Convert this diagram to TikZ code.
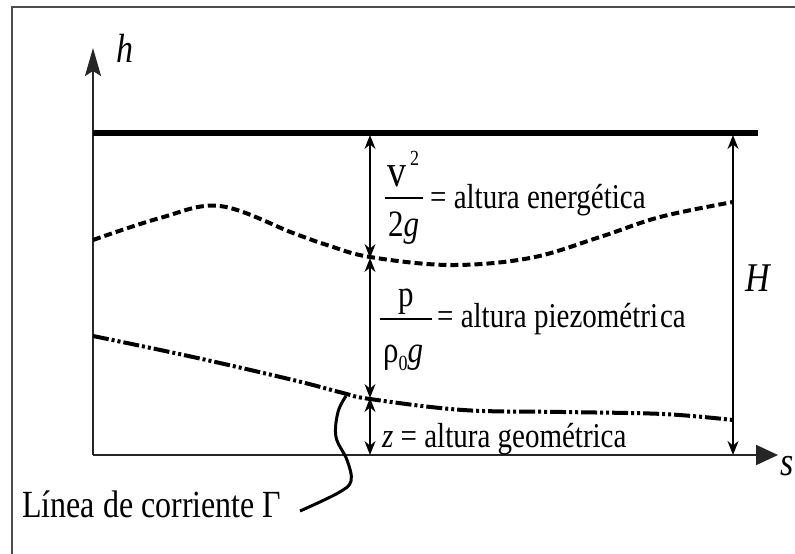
\documentclass[tikz,border=0pt]{standalone}
\usepackage{fontspec}
\setmainfont{Liberation Serif}
\usetikzlibrary{arrows.meta}
\newcommand\vs[1]{\scalebox{1}[1.2]{#1}}
\begin{document}
\begin{tikzpicture}[x=1pt,y=-1pt,
  frameline/.style={line width=1.6pt, draw=black!70},
  axisline/.style={line width=2pt, draw=black!85},
  energyline/.style={line width=6pt},
  piezoline/.style={line width=4pt, dash pattern=on 8pt off 4pt},
  streamline/.style={line width=4pt, dash pattern=on 16pt off 3pt on 3pt off 3pt on 3pt off 3pt},
  dimarrow/.style={line width=1.4pt, {Stealth[length=14pt,width=11pt]}-{Stealth[length=14pt,width=11pt]}},
  lbl/.style={inner sep=0pt, anchor=base west, font=\fontsize{29}{34}\selectfont},
  frac/.style={inner sep=0pt, anchor=base west, font=\fontsize{31}{36}\selectfont},
  supl/.style={inner sep=0pt, anchor=base west, font=\fontsize{18}{20}\selectfont},
  axlbl/.style={inner sep=0pt, anchor=base west, font=\fontsize{34}{40}\selectfont\itshape},
  fracbar/.style={line width=1.5pt}
]
\useasboundingbox (0,0) rectangle (795,554);
\fill[white] (0,0) rectangle (795,554);
% frame
\coordinate (F0) at (12,554);
\coordinate (F1) at (12,7);
\coordinate (F2) at (795,7);
\draw[frameline] (F0) -- (F1) -- (F2);
% axes
\coordinate (O) at (93,455);
\coordinate (hTip) at (93,48);
\coordinate (sTip) at (778,455);
\draw[axisline, -{Stealth[length=28pt,width=16pt,inset=5pt]}] (O) -- (hTip);
\draw[axisline, -{Triangle[length=22pt,width=20pt]}] (O) -- (sTip);
\node[axlbl] (hlab) at (116,62) {\vs{h}};
\node[axlbl] (slab) at (780,475) {\vs{s}};
% energy line
\coordinate (E0) at (93,133);
\coordinate (E1) at (758,133);
\draw[energyline] (E0) -- (E1);
% piezometric line
\draw[piezoline] plot[smooth, tension=0.6] coordinates {(93,240) (160,218) (220,206) (293,233) (327,245) (370,257) (450,265) (530,258) (600,237) (660,217) (733,202)};
% streamline
\draw[streamline] plot[smooth, tension=0.6] coordinates {(93,336) (193,357) (293,380) (343,393) (370,399) (463,410) (563,412) (663,414) (733,420)};
% dimension arrows
\coordinate (A0) at (370,135);
\coordinate (A1) at (370,258);
\coordinate (A2) at (370,398);
\coordinate (A3) at (370,455);
\draw[dimarrow] (A0) -- (A1);
\draw[dimarrow] (A1) -- (A2);
\draw[dimarrow] (A2) -- (A3);
\coordinate (H0) at (733,135);
\coordinate (H1) at (733,455);
\draw[dimarrow] (H0) -- (H1);
\node[axlbl] (Hlab) at (745,291) {\vs{H}};
% label 1
\node[frac, font=\fontsize{38}{40}\selectfont] (v) at (387,186) {\vs{v}};
\node[supl] (vsq) at (410,165) {\vs{2}};
\coordinate (B1a) at (385,198);
\coordinate (B1b) at (423,198);
\draw[fracbar] (B1a) -- (B1b);
\node[frac] (twog) at (388,236) {\vs{2\textit{g}}};
\node[lbl] (l1) at (430,208) {\vs{= altura energética}};
% label 2
\node[frac] (p) at (398,306) {\vs{p}};
\coordinate (B2a) at (380,319);
\coordinate (B2b) at (432,319);
\draw[fracbar] (B2a) -- (B2b);
\node[frac] (rho) at (383,362) {\vs{ρ\raisebox{-0.22em}{\fontsize{18}{20}\selectfont 0}\textit{g}}};
\node[lbl] (l2) at (437,327) {\vs{= altura piezométri\kern2pt ca}};
% label 3
\node[lbl] (l3) at (382,447) {\vs{\textit{z} = altura geométrica}};
% streamline pointer
\node[inner sep=0pt, anchor=base west, font=\fontsize{32}{38}\selectfont] (gam) at (22,517) {\vs{Línea de corriente Γ}};
\coordinate (P0) at (346,396);
\draw[line width=3pt] plot[smooth, tension=0.6] coordinates {(346,396) (338,412) (336,437) (347,460) (351,481) (338,493) (300,511)};
\end{tikzpicture}
\end{document}
